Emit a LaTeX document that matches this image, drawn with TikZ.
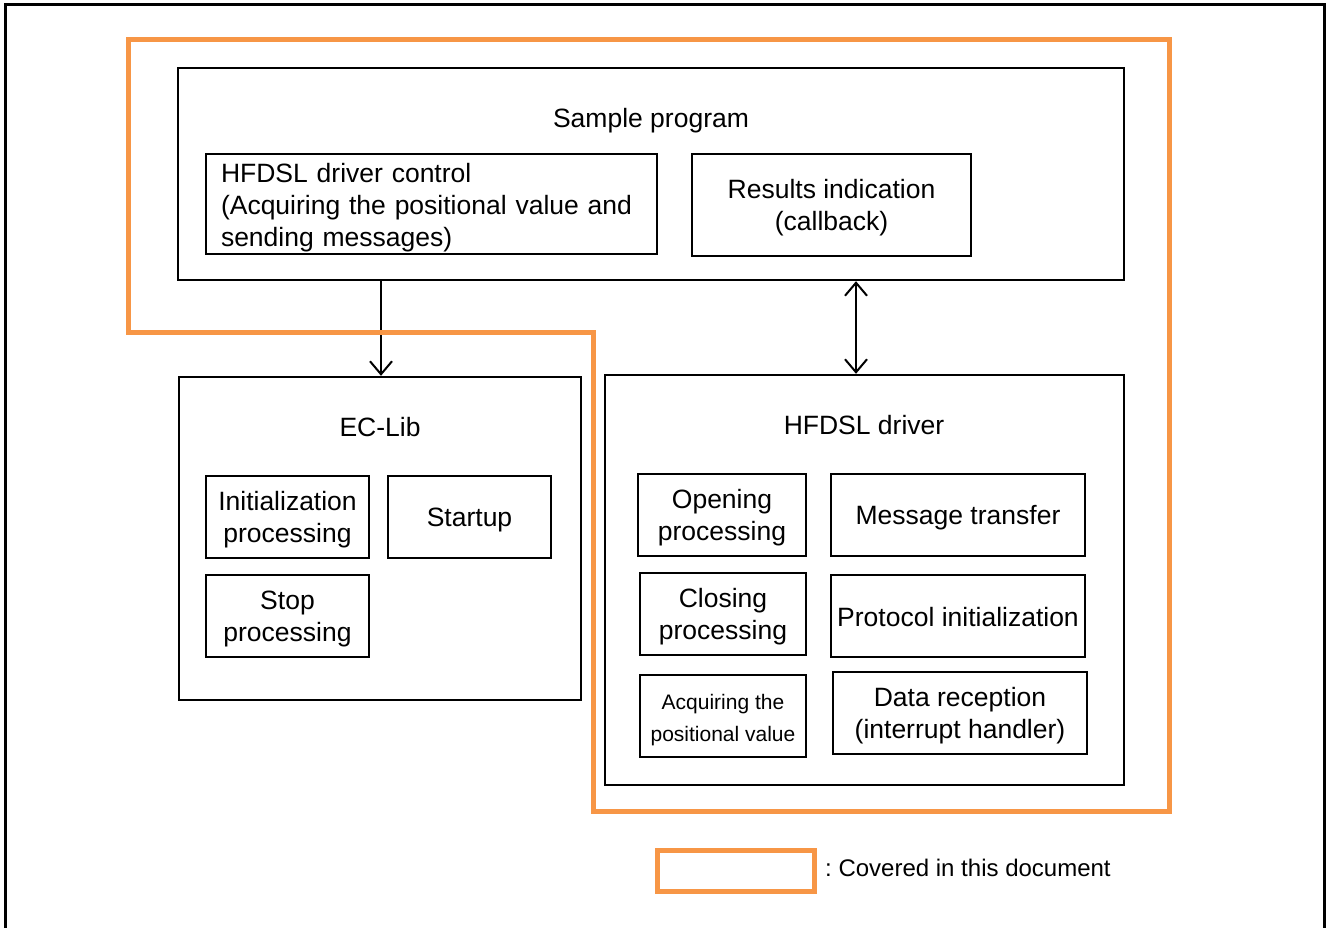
\documentclass[tikz,border=0pt]{standalone}
\usepackage{fontspec}
\setmainfont{Liberation Sans}
\usetikzlibrary{arrows.meta}
\definecolor{scope}{RGB}{247,150,70}
\tikzset{
  box/.style={draw=black, line width=2.4pt, inner sep=0pt},
  txt/.style={inner sep=0pt, align=center, font=\fontsize{26.5}{32}\selectfont},
  arr/.style={line width=2pt, -{Straight Barb[length=13pt,width=22pt,line width=2pt]}},
  darr/.style={line width=2pt, {Straight Barb[length=13pt,width=22pt,line width=2pt]}-{Straight Barb[length=13pt,width=22pt,line width=2pt]}},
  scopeline/.style={draw=scope, line width=5pt, line join=miter}
}
% \blk[text shift]{name}{cx}{cy}{width}{height}{text}[text options]
\newcommand\blk[7][3]{%
  \node[box, minimum width=#5pt, minimum height=#6pt] (#2) at (#3,#4) {};
  \node[txt] (#2t) at (#3,#4+#1) {#7};}
\begin{document}
\frenchspacing
\begin{tikzpicture}[x=1pt,y=-1pt]
\useasboundingbox (0,0) rectangle (1326,928);
% page frame (bottom edge lies below the page)
\draw[line width=3pt] (5,940) -- (5,5) -- (1324,5) -- (1324,940);

% sample program
\node[box, minimum width=946pt, minimum height=212pt] (sp) at (651,174) {};
\node[txt] (sptitle) at (651,121) {Sample program};
\node[box, minimum width=451pt, minimum height=100pt] (ctl) at (431.5,204) {};
\node[txt, text width=421pt, align=left] (ctlt) at (431.5,208)
  {HFDSL driver control\\(Acquiring the positional value and\\sending messages)};
\blk{res}{831.5}{205}{279}{102}{Results indication\\(callback)}

% EC-Lib
\node[box, minimum width=402pt, minimum height=323pt] (ec) at (380,538.5) {};
\node[txt] (ectitle) at (380,427) {EC-Lib};
\blk{init}{287.5}{517}{163}{82}{Initialization\\processing}
\blk{start}{469.5}{517}{163}{82}{Startup}
\blk{stop}{287.5}{616}{163}{82}{Stop\\processing}

% HFDSL driver
\node[box, minimum width=519pt, minimum height=410pt] (drv) at (864.5,580) {};
\node[txt] (drvtitle) at (864,425) {HFDSL driver};
\blk{open}{722}{515}{168}{82}{Opening\\processing}
\blk{msg}{958}{515}{254}{82}{Message transfer}
\blk{close}{723}{614}{166}{82}{Closing\\processing}
\blk[1]{proto}{958}{616}{254}{82}{Protocol initialization}
\blk[4]{acq}{723}{716}{166}{82}{\fontsize{21}{32}\selectfont Acquiring the\\
  \fontsize{21}{32}\selectfont positional value}
\blk{rx}{960}{713}{254}{82}{Data reception\\(interrupt handler)}

% connectors
\coordinate (a1) at (381,0);
\coordinate (a2) at (856,0);
\draw[arr] (a1 |- sp.south) -- (a1 |- ec.north);
\draw[darr] (a2 |- sp.south) -- (a2 |- drv.north);

% scope outline
\draw[scopeline] (128,40) -- (1169,40) -- (1169,811) -- (593,811)
  -- (593,332) -- (128,332) -- cycle;

% legend
\node[draw=scope, line width=5pt, minimum width=157pt, minimum height=41pt,
      inner sep=0pt] (key) at (735.5,870.5) {};
\node[txt, anchor=west, font=\fontsize{24}{28}\selectfont] (keytext) at (825,868)
  {: Covered in this document};
\end{tikzpicture}
\end{document}
